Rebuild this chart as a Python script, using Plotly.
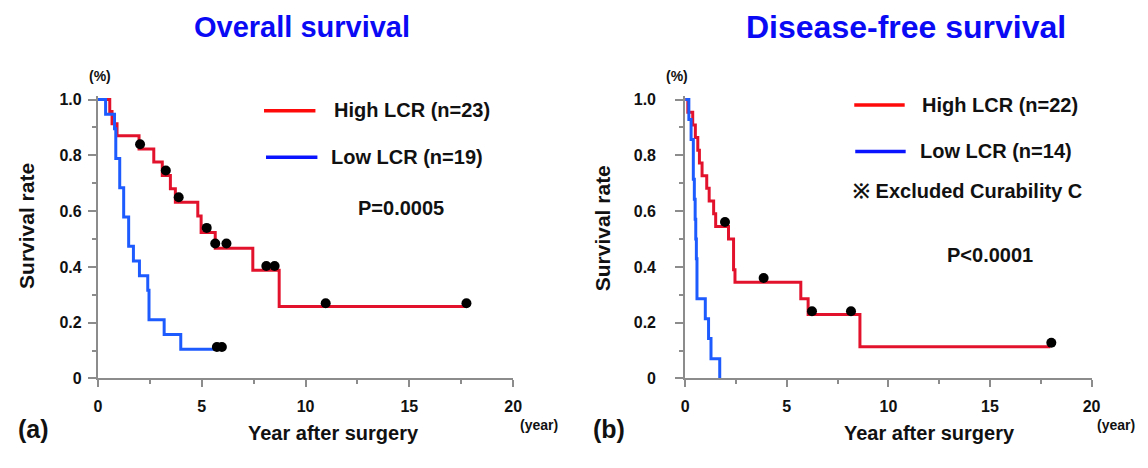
import plotly.graph_objects as go

# ---------------- data ----------------
# (a) Overall survival
os_high_t = [0, 0.57, 0.68, 0.92, 1.98, 2.69, 3.10, 3.49, 3.73, 4.81, 4.97, 5.65, 7.46, 8.73, 17.75]
os_high_s = [1.0, 0.957, 0.913, 0.870, 0.823, 0.776, 0.728, 0.680, 0.632, 0.583, 0.523, 0.467, 0.388, 0.258, 0.258]
os_high_cens_t = [2.03, 3.27, 3.89, 5.24, 5.65, 6.19, 8.11, 8.51, 10.97, 17.75]
os_high_cens_s = [0.840, 0.746, 0.650, 0.540, 0.484, 0.484, 0.403, 0.403, 0.270, 0.270]

os_low_t = [0, 0.37, 0.80, 0.86, 1.05, 1.24, 1.48, 1.71, 2.00, 2.40, 2.46, 3.19, 3.99, 5.97]
os_low_s = [1.0, 0.947, 0.895, 0.789, 0.684, 0.579, 0.474, 0.421, 0.368, 0.316, 0.211, 0.158, 0.105, 0.105]
os_low_cens_t = [5.73, 5.97]
os_low_cens_s = [0.113, 0.113]

# (b) Disease-free survival
dfs_high_t = [0, 0.13, 0.37, 0.50, 0.62, 0.70, 0.83, 1.06, 1.18, 1.40, 1.50, 2.13, 2.38, 2.45, 5.69, 6.05, 8.60, 17.97]
dfs_high_s = [1.0, 0.955, 0.909, 0.864, 0.818, 0.773, 0.727, 0.682, 0.636, 0.591, 0.545, 0.500, 0.390, 0.345, 0.286, 0.229, 0.114, 0.114]
dfs_high_cens_t = [1.96, 3.86, 6.24, 8.16, 18.02]
dfs_high_cens_s = [0.561, 0.360, 0.241, 0.241, 0.128]

dfs_low_t = [0, 0.18, 0.29, 0.40, 0.45, 0.49, 0.52, 0.55, 0.58, 0.99, 1.15, 1.27, 1.70]
dfs_low_s = [1.0, 0.929, 0.857, 0.714, 0.643, 0.571, 0.500, 0.429, 0.286, 0.214, 0.143, 0.071, 0.0]

y_tickvals = [0, 0.2, 0.4, 0.6, 0.8, 1.0]
y_ticktext = ["0", "0.2", "0.4", "0.6", "0.8", "1.0"]
x_tickvals = [0, 5, 10, 15, 20]
x_ticktext = ["0", "5", "10", "15", "20"]

titles = ["Overall survival", "Disease-free survival"]
legend_a = ["High LCR (n=23)", "Low LCR (n=19)"]
legend_b = ["High LCR (n=22)", "Low LCR (n=14)"]

# ---------------- style ----------------
W, H = 1148, 468
FONT = "Liberation Sans, Arial, sans-serif"
RED = "#E3122C"
BLUE = "#1E5BFF"
LRED = "#FF0A0A"
LBLUE = "#0A14FF"
TBLUE = "#0A0AF5"
AX = "#8C8C8C"

def px(x):
    return x / W

def py(y):
    return 1 - y / H

y0px, y1px = 385.0, 97.5
ymax = 1.012
top_px = y0px - ymax * (y0px - y1px)
ydom = [py(y0px), py(top_px)]

fig = go.Figure()

def add_curve(t, s, color, xa, ya):
    fig.add_trace(go.Scatter(x=t, y=s, mode="lines", line=dict(color=color, width=3, shape="hv"),
                             xaxis=xa, yaxis=ya, showlegend=False, hoverinfo="skip"))

def add_cens(t, s, xa, ya):
    fig.add_trace(go.Scatter(x=t, y=s, mode="markers", marker=dict(color="black", size=10),
                             xaxis=xa, yaxis=ya, showlegend=False, hoverinfo="skip"))

add_curve(os_high_t, os_high_s, RED, "x", "y")
add_curve(os_low_t, os_low_s, BLUE, "x", "y")
add_cens(os_high_cens_t, os_high_cens_s, "x", "y")
add_cens(os_low_cens_t, os_low_cens_s, "x", "y")

add_curve(dfs_high_t, dfs_high_s, RED, "x2", "y2")
add_curve(dfs_low_t, dfs_low_s, BLUE, "x2", "y2")
add_cens(dfs_high_cens_t, dfs_high_cens_s, "x2", "y2")

tickfont = dict(family=FONT, size=16, color="#111111")

def bold(lst):
    return ["<b>" + s + "</b>" for s in lst]

def xaxis(dom, anchor):
    return dict(domain=dom, anchor=anchor, range=[0, 20], tickvals=x_tickvals, ticktext=bold(x_ticktext),
                showline=True, linecolor=AX, linewidth=2, ticks="outside", ticklen=7, tickwidth=2,
                tickcolor=AX, showgrid=False, zeroline=False, tickfont=tickfont, ticklabelstandoff=5,
                minor=dict(dtick=2.5, ticks="outside", ticklen=4, tickcolor=AX, tickwidth=1.5, showgrid=False))

def yaxis(anchor, standoff):
    return dict(domain=ydom, anchor=anchor, range=[0, ymax], tickvals=y_tickvals, ticktext=bold(y_ticktext),
                showline=True, linecolor=AX, linewidth=2, ticks="outside", ticklen=8, tickwidth=2,
                tickcolor=AX, showgrid=False, zeroline=False, tickfont=tickfont, ticklabelstandoff=standoff,
                minor=dict(dtick=0.1, ticks="outside", ticklen=4, tickcolor=AX, tickwidth=1.5, showgrid=False))

fig.update_layout(
    width=W, height=H, margin=dict(l=0, r=0, t=0, b=0),
    paper_bgcolor="white", plot_bgcolor="white",
    xaxis=xaxis([px(95), px(515)], "y"),
    yaxis=yaxis("x", 3),
    xaxis2=xaxis([px(689), px(1100)], "y2"),
    yaxis2=yaxis("x2", 16),
    showlegend=False,
)

ann = []
def text(x, y, s, size, color="#111111", xanchor="center", textangle=0):
    ann.append(dict(x=px(x), y=py(y), xref="paper", yref="paper", text="<b>" + s + "</b>",
                    showarrow=False, xanchor=xanchor, yanchor="middle", textangle=textangle,
                    font=dict(family=FONT, size=size, color=color)))

# titles
text(301, 23, titles[0], 29, TBLUE)
text(912, 23, titles[1], 32, TBLUE)
# (%) marks
text(97, 73, "(%)", 14)
text(681, 73, "(%)", 14)
# y axis titles
text(22, 228, "Survival rate", 21, textangle=-90)
text(605, 230, "Survival rate", 21, textangle=-90)
# x axis titles
text(333, 441, "Year after surgery", 20)
text(936, 441, "Year after surgery", 20)
# (year)
text(541, 433, "(year)", 14)
text(1125, 433, "(year)", 14)
# panel labels
text(30, 437, "(a)", 25)
text(612, 437, "(b)", 25)
# legends (a)
text(332, 108, legend_a[0], 20, xanchor="left")
text(329, 157, legend_a[1], 20, xanchor="left")
text(402, 209, "P=0.0005", 20)
# legends (b)
text(926, 103, legend_b[0], 20, xanchor="left")
text(924, 151, legend_b[1], 20, xanchor="left")
text(857, 192, "※ Excluded Curability C", 20, xanchor="left")
text(997, 258, "P<0.0001", 20)

fig.update_layout(annotations=ann)

shapes = []
def lseg(x0, x1, y, color):
    shapes.append(dict(type="line", xref="paper", yref="paper", x0=px(x0), x1=px(x1), y0=py(y), y1=py(y),
                       line=dict(color=color, width=3.5)))
lseg(263, 315, 109, LRED)
lseg(265, 317, 157, LBLUE)
lseg(860, 911, 103, LRED)
lseg(861, 912, 151, LBLUE)
fig.update_layout(shapes=shapes)

fig.write_html("out.html")
